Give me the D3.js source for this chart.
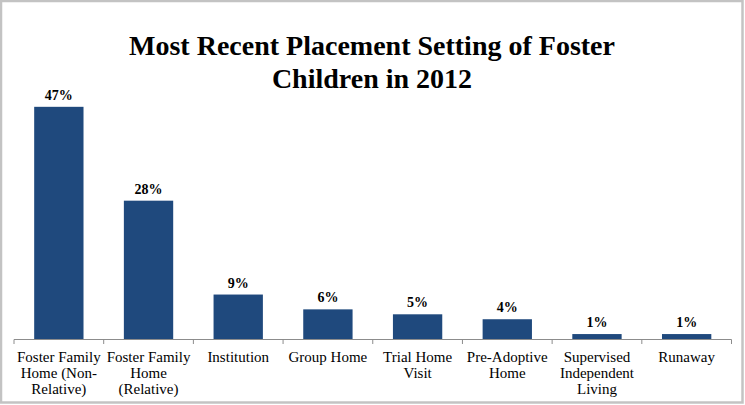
<!DOCTYPE html>
<html><head><meta charset="utf-8">
<script src="https://cdn.jsdelivr.net/npm/d3@7"></script>
<style>body{margin:0;background:#fff}svg{display:block}
text{font-family:'Liberation Serif','Times New Roman','DejaVu Serif',serif}</style>
</head><body>
<script>
const categories = [
  ["Foster Family","Home (Non-","Relative)"],
  ["Foster Family","Home","(Relative)"],
  ["Institution"],
  ["Group Home"],
  ["Trial Home","Visit"],
  ["Pre-Adoptive","Home"],
  ["Supervised","Independent","Living"],
  ["Runaway"]
];
const values = [47, 28, 9, 6, 5, 4, 1, 1];
const valueLabels = ["47%","28%","9%","6%","5%","4%","1%","1%"];
const titleLines = ["Most Recent Placement Setting of Foster", "Children in 2012"];

const W = 745, H = 405;
const svg = d3.select("body").append("svg").attr("width", W).attr("height", H);
svg.append("rect").attr("width", W).attr("height", H).attr("fill", "#fff");
svg.append("rect").attr("x", 1).attr("y", 1).attr("width", 741.5).attr("height", 401.5)
  .attr("fill", "none").attr("stroke", "#c3c3c3").attr("stroke-width", 2.5);

const x = d3.scaleBand().domain(d3.range(categories.length)).range([14, 731.5]).paddingInner(0.45).paddingOuter(0.225);
const y = d3.scaleLinear().domain([0, 50]).range([339, 92]);

svg.selectAll("text.title").data(titleLines).join("text")
  .attr("x", 372).attr("y", (d,i) => 55 + i*33)
  .attr("text-anchor", "middle")
  .attr("font-weight", "bold").attr("font-size", 28)
  .text(d => d);

svg.selectAll("rect.bar").data(values).join("rect")
  .attr("x", (d,i) => x(i)).attr("width", x.bandwidth())
  .attr("y", d => y(d)).attr("height", d => y(0) - y(d))
  .attr("fill", "#1F497D");

svg.selectAll("text.val").data(values).join("text")
  .attr("x", (d,i) => x(i) + x.bandwidth()/2).attr("y", d => y(d) - 7)
  .attr("text-anchor", "middle")
  .attr("font-weight", "bold").attr("font-size", 14)
  .text((d,i) => valueLabels[i]);

// axis
const axisG = svg.append("g");
const step = x.step();
axisG.append("line").attr("x1", 14).attr("x2", 731.5).attr("y1", 339.5).attr("y2", 339.5)
  .attr("stroke", "#8c8c8c").attr("stroke-width", 1);
axisG.selectAll("line.tick").data(d3.range(categories.length + 1)).join("line")
  .attr("x1", i => 14 + i*step).attr("x2", i => 14 + i*step)
  .attr("y1", 339.5).attr("y2", 344).attr("stroke", "#8c8c8c");

const lbl = svg.selectAll("text.cat").data(categories).join("text")
  .attr("text-anchor", "middle")
  .attr("font-size", 15);
lbl.each(function(lines, i) {
  d3.select(this).selectAll("tspan").data(lines).join("tspan")
    .attr("x", x(i) + x.bandwidth()/2)
    .attr("y", (d,j) => 362 + j*16)
    .text(d => d);
});
</script>
</body></html>
